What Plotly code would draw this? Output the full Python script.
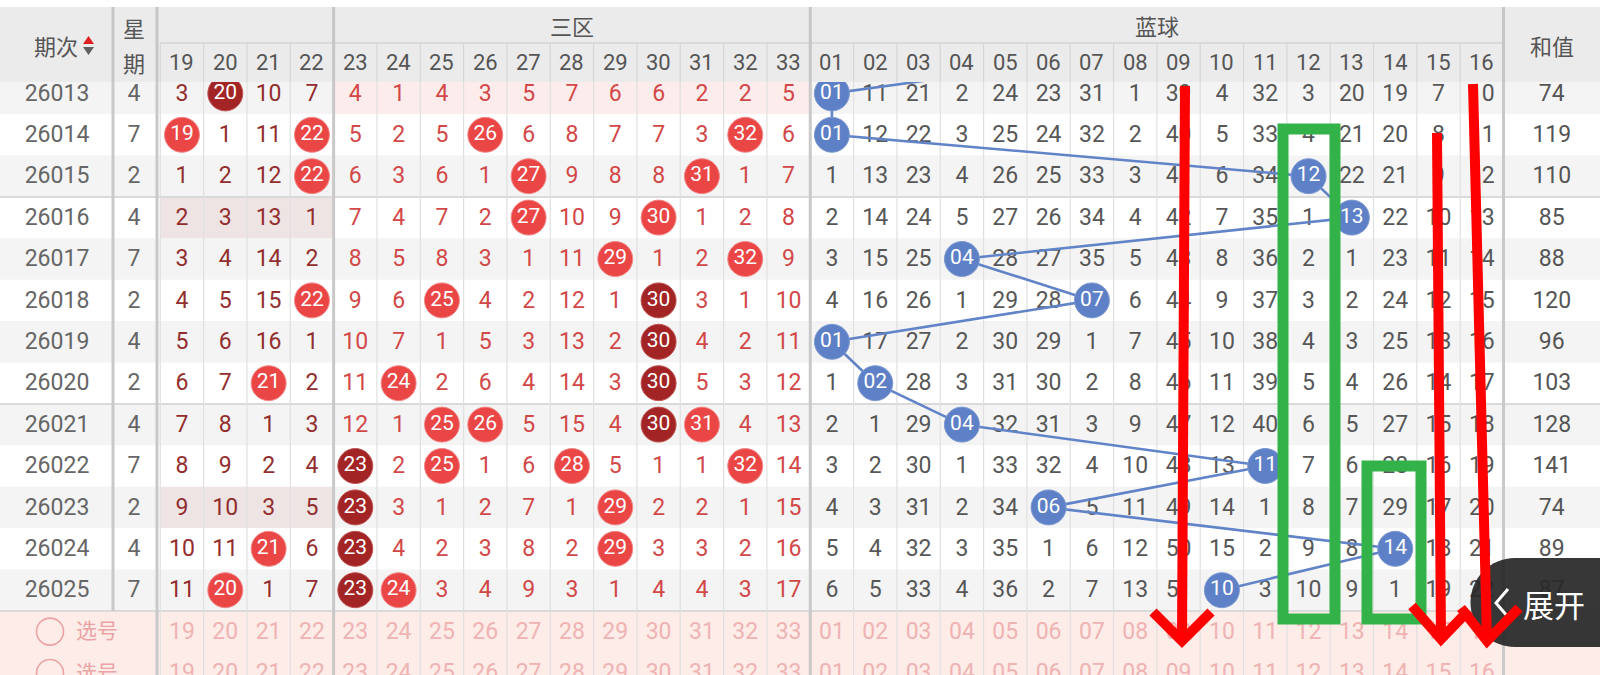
import plotly.graph_objects as go

# ---------------- data ----------------
periods = [26013, 26014, 26015, 26016, 26017, 26018, 26019, 26020, 26021, 26022, 26023, 26024, 26025]
weekdays = [4, 7, 2, 4, 7, 2, 4, 2, 4, 7, 2, 4, 7]
sum_values = [74, 119, 110, 85, 88, 120, 96, 103, 128, 141, 74, 89, 87]

red_numbers = [19, 20, 21, 22, 23, 24, 25, 26, 27, 28, 29, 30, 31, 32, 33]
blue_numbers = ["01", "02", "03", "04", "05", "06", "07", "08", "09", "10", "11", "12", "13", "14", "15", "16"]

# omission counts; 0 = number drawn in that period
red_miss = [
    [3, 0, 10, 7, 4, 1, 4, 3, 5, 7, 6, 6, 2, 2, 5],
    [0, 1, 11, 0, 5, 2, 5, 0, 6, 8, 7, 7, 3, 0, 6],
    [1, 2, 12, 0, 6, 3, 6, 1, 0, 9, 8, 8, 0, 1, 7],
    [2, 3, 13, 1, 7, 4, 7, 2, 0, 10, 9, 0, 1, 2, 8],
    [3, 4, 14, 2, 8, 5, 8, 3, 1, 11, 0, 1, 2, 0, 9],
    [4, 5, 15, 0, 9, 6, 0, 4, 2, 12, 1, 0, 3, 1, 10],
    [5, 6, 16, 1, 10, 7, 1, 5, 3, 13, 2, 0, 4, 2, 11],
    [6, 7, 0, 2, 11, 0, 2, 6, 4, 14, 3, 0, 5, 3, 12],
    [7, 8, 1, 3, 12, 1, 0, 0, 5, 15, 4, 0, 0, 4, 13],
    [8, 9, 2, 4, 0, 2, 0, 1, 6, 0, 5, 1, 1, 0, 14],
    [9, 10, 3, 5, 0, 3, 1, 2, 7, 1, 0, 2, 2, 1, 15],
    [10, 11, 0, 6, 0, 4, 2, 3, 8, 2, 0, 3, 3, 2, 16],
    [11, 0, 1, 7, 0, 0, 3, 4, 9, 3, 1, 4, 4, 3, 17],
]
blue_miss = [
    [0, 11, 21, 2, 24, 23, 31, 1, 39, 4, 32, 3, 20, 19, 7, 10],
    [0, 12, 22, 3, 25, 24, 32, 2, 40, 5, 33, 4, 21, 20, 8, 11],
    [1, 13, 23, 4, 26, 25, 33, 3, 41, 6, 34, 0, 22, 21, 9, 12],
    [2, 14, 24, 5, 27, 26, 34, 4, 42, 7, 35, 1, 0, 22, 10, 13],
    [3, 15, 25, 0, 28, 27, 35, 5, 43, 8, 36, 2, 1, 23, 11, 14],
    [4, 16, 26, 1, 29, 28, 0, 6, 44, 9, 37, 3, 2, 24, 12, 15],
    [0, 17, 27, 2, 30, 29, 1, 7, 45, 10, 38, 4, 3, 25, 13, 16],
    [1, 0, 28, 3, 31, 30, 2, 8, 46, 11, 39, 5, 4, 26, 14, 17],
    [2, 1, 29, 0, 32, 31, 3, 9, 47, 12, 40, 6, 5, 27, 15, 18],
    [3, 2, 30, 1, 33, 32, 4, 10, 48, 13, 0, 7, 6, 28, 16, 19],
    [4, 3, 31, 2, 34, 0, 5, 11, 49, 14, 1, 8, 7, 29, 17, 20],
    [5, 4, 32, 3, 35, 1, 6, 12, 50, 15, 2, 9, 8, 0, 18, 21],
    [6, 5, 33, 4, 36, 2, 7, 13, 51, 0, 3, 10, 9, 1, 19, 22],
]
dark_red_hits = [(26013, 20), (26018, 30), (26019, 30), (26020, 30), (26021, 30),
                 (26022, 23), (26023, 23), (26024, 23), (26025, 23)]
prev_blue_ball = 8          # blue ball of period 26012 (row hidden under header)
picker_label = "选号"

# ---------------- layout constants ----------------
W, H = 1600, 675
HDR_TOP, HDR_MID, HDR_BOT = 7, 43, 82
ROW_H = 41.4
ROW_TOP0 = 72.7
COL_W = 43.33
COL_LEFT0 = 160.3
X_PERIOD, X_WEEK = 57, 134
SUM_LEFT = COL_LEFT0 + 31 * COL_W
X_SUM = (SUM_LEFT + W) / 2
TEXT_DY = 1.5
NUM_FONT = "Roboto"
CJK_FONT = "Noto Sans CJK SC"
N_RED = len(red_numbers)


def cx(c):
    return COL_LEFT0 + (c + 0.5) * COL_W


def cy(i):
    return ROW_TOP0 + (i + 0.5) * ROW_H


def col_edge(c):
    return COL_LEFT0 + c * COL_W


nrows = len(periods)
shapes = []

# ---- body backgrounds ----
for i in range(nrows):
    top = ROW_TOP0 + i * ROW_H
    if i % 2 == 0:
        shapes.append(dict(type="rect", layer="below", x0=0, x1=W, y0=top, y1=top + ROW_H,
                           fillcolor="#f4f4f4", line=dict(width=0)))
top = ROW_TOP0
shapes.append(dict(type="rect", layer="below", x0=col_edge(4), x1=col_edge(15), y0=top, y1=top + ROW_H,
                   fillcolor="#fcecec", line=dict(width=0)))
for i in (3, 10):
    top = ROW_TOP0 + i * ROW_H
    shapes.append(dict(type="rect", layer="below", x0=col_edge(0), x1=col_edge(4), y0=top, y1=top + ROW_H,
                       fillcolor="#efe4e4", line=dict(width=0)))
pick_top = ROW_TOP0 + nrows * ROW_H
shapes.append(dict(type="rect", layer="below", x0=0, x1=W, y0=pick_top, y1=H,
                   fillcolor="#fdece8", line=dict(width=0)))
for i in (3, 8, 13):
    yy = ROW_TOP0 + i * ROW_H
    shapes.append(dict(type="line", layer="below", x0=0, x1=W, y0=yy, y1=yy,
                       line=dict(color="#dadada", width=2)))
for c in range(32):
    xx = col_edge(c)
    shapes.append(dict(type="line", layer="below", x0=xx, x1=xx, y0=HDR_BOT, y1=H,
                       line=dict(color="#e0e0e0", width=1.2)))
for xx in (col_edge(4), col_edge(15), SUM_LEFT, 157):
    shapes.append(dict(type="line", layer="below", x0=xx, x1=xx, y0=HDR_BOT, y1=H,
                       line=dict(color="#c9c9c9", width=3)))
shapes.append(dict(type="line", layer="below", x0=113, x1=113, y0=HDR_BOT, y1=pick_top,
                   line=dict(color="#c9c9c9", width=3)))

# ---- header (above traces) ----
shapes.append(dict(type="rect", layer="above", x0=0, x1=W, y0=0, y1=HDR_TOP,
                   fillcolor="white", line=dict(width=0)))
shapes.append(dict(type="rect", layer="above", x0=0, x1=W, y0=HDR_TOP, y1=HDR_BOT,
                   fillcolor="#ebebeb", line=dict(width=0)))
shapes.append(dict(type="line", layer="above", x0=col_edge(0), x1=SUM_LEFT, y0=HDR_MID, y1=HDR_MID,
                   line=dict(color="#d4d4d4", width=1.5)))
for c in range(32):
    xx = col_edge(c)
    shapes.append(dict(type="line", layer="above", x0=xx, x1=xx, y0=HDR_MID, y1=HDR_BOT,
                       line=dict(color="#d6d6d6", width=1.2)))
for xx in (113, 157, col_edge(4), col_edge(15), SUM_LEFT):
    shapes.append(dict(type="line", layer="above", x0=xx, x1=xx, y0=HDR_TOP, y1=HDR_BOT,
                       line=dict(color="#c6c6c6", width=3)))
shapes.append(dict(type="path", layer="above", path="M 83 44 L 94 44 L 88.5 36 Z",
                   fillcolor="#e02020", line=dict(width=0)))
shapes.append(dict(type="path", layer="above", path="M 83 47 L 94 47 L 88.5 55 Z",
                   fillcolor="#606060", line=dict(width=0)))

# ---- overlay markup ----
r = 44.5
bx, by = 1515, 602.5
k = 0.5523 * r
btn_path = (f"M {bx} {by - r} L {W} {by - r} L {W} {by + r} L {bx} {by + r} "
            f"C {bx - k} {by + r} {bx - r} {by + k} {bx - r} {by} "
            f"C {bx - r} {by - k} {bx - k} {by - r} {bx} {by - r} Z")
shapes.append(dict(type="path", layer="above", path=btn_path,
                   fillcolor="rgba(40,40,40,0.93)", line=dict(width=0)))
shapes.append(dict(type="path", layer="above", path="M 1508 589 L 1496 603 L 1508 617",
                   line=dict(color="white", width=3)))
GREEN = "#33b249"
shapes.append(dict(type="rect", layer="above", x0=1283, x1=1335, y0=129, y1=619,
                   line=dict(color=GREEN, width=11), fillcolor="rgba(0,0,0,0)"))
shapes.append(dict(type="rect", layer="above", x0=1367, x1=1421, y0=466, y1=619,
                   line=dict(color=GREEN, width=11), fillcolor="rgba(0,0,0,0)"))
RED = "#ff0000"
arrow_paths = [
    "M 1185 86 L 1182 640",
    "M 1153 612 L 1182 641 L 1211 612",
    "M 1437 133 L 1441 638",
    "M 1412 606 L 1441 639 L 1469 610",
    "M 1473 84 L 1487 640",
    "M 1461 608 L 1487 641 L 1519 608",
]
for p in arrow_paths:
    shapes.append(dict(type="path", layer="above", path=p, line=dict(color=RED, width=10)))

# ---------------- traces ----------------
fig = go.Figure()


def text_trace(xs, ys, texts, color, size=23, family=NUM_FONT):
    return go.Scatter(x=xs, y=[v + TEXT_DY for v in ys], text=texts, mode="text",
                      textposition="middle center",
                      textfont=dict(color=color, size=size, family=family),
                      hoverinfo="skip", showlegend=False)


ys = [cy(i) for i in range(nrows)]
fig.add_trace(text_trace([X_PERIOD] * nrows, ys, [str(p) for p in periods], "#666666"))
fig.add_trace(text_trace([X_WEEK] * nrows, ys, [str(w) for w in weekdays], "#666666"))
fig.add_trace(text_trace([X_SUM] * nrows, ys, [str(s) for s in sum_values], "#555555"))

z2x, z2y, z2t = [], [], []
z3x, z3y, z3t = [], [], []
bx_, by_, bt_ = [], [], []
hit_bright = ([], [], [])
hit_dark = ([], [], [])
hit_blue = ([], [], [])
blue_path_x, blue_path_y = [cx(N_RED + prev_blue_ball - 1)], [cy(-1)]
for i, p in enumerate(periods):
    for j, n in enumerate(red_numbers):
        v = red_miss[i][j]
        if v == 0:
            tgt = hit_dark if (p, n) in dark_red_hits else hit_bright
            tgt[0].append(cx(j)); tgt[1].append(cy(i)); tgt[2].append(str(n))
        elif j < 4:
            z2x.append(cx(j)); z2y.append(cy(i)); z2t.append(str(v))
        else:
            z3x.append(cx(j)); z3y.append(cy(i)); z3t.append(str(v))
    for j, n in enumerate(blue_numbers):
        v = blue_miss[i][j]
        c = N_RED + j
        if v == 0:
            hit_blue[0].append(cx(c)); hit_blue[1].append(cy(i)); hit_blue[2].append(n)
            blue_path_x.append(cx(c)); blue_path_y.append(cy(i))
        else:
            bx_.append(cx(c)); by_.append(cy(i)); bt_.append(str(v))

fig.add_trace(text_trace(z2x, z2y, z2t, "#922e2e"))
fig.add_trace(text_trace(z3x, z3y, z3t, "#d24848"))
fig.add_trace(text_trace(bx_, by_, bt_, "#575757"))

for k_ in range(2):
    yy = cy(nrows + k_)
    fig.add_trace(text_trace([cx(j) for j in range(N_RED)], [yy] * N_RED,
                             [str(n) for n in red_numbers], "#efb3b3"))
    fig.add_trace(text_trace([cx(N_RED + j) for j in range(len(blue_numbers))], [yy] * len(blue_numbers),
                             blue_numbers, "#efb3b3"))
    fig.add_trace(go.Scatter(x=[50], y=[yy], mode="markers",
                             marker=dict(symbol="circle-open", size=27, color="#eba3a3", line=dict(width=1.6)),
                             hoverinfo="skip", showlegend=False))
    fig.add_trace(text_trace([97], [yy], [picker_label], "#eba3a3", size=21, family=CJK_FONT))

fig.add_trace(go.Scatter(x=blue_path_x, y=blue_path_y, mode="lines",
                         line=dict(color="#6184c8", width=2.6), hoverinfo="skip", showlegend=False))


def ball_trace(data, fill, edge):
    return go.Scatter(x=data[0], y=data[1], text=data[2], mode="markers+text",
                      textposition="middle center",
                      marker=dict(size=35, color=fill, line=dict(color=edge, width=1)),
                      textfont=dict(color="white", size=21, family=NUM_FONT),
                      hoverinfo="skip", showlegend=False)


fig.add_trace(ball_trace(hit_bright, "#ea4646", "#f28a8a"))
fig.add_trace(ball_trace(hit_dark, "#a22424", "#c05555"))
fig.add_trace(ball_trace(hit_blue, "#5e80c6", "#7e9ad2"))

# ---------------- header text ----------------
ann = []
HDR_C = "#555555"
ann.append(dict(x=X_PERIOD - 1, y=45, text="期次", font=dict(size=22, color=HDR_C, family=CJK_FONT)))
ann.append(dict(x=X_WEEK, y=27, text="星", font=dict(size=22, color=HDR_C, family=CJK_FONT)))
ann.append(dict(x=X_WEEK, y=62, text="期", font=dict(size=22, color=HDR_C, family=CJK_FONT)))
ann.append(dict(x=(col_edge(4) + col_edge(15)) / 2, y=25, text="三区",
                font=dict(size=22, color=HDR_C, family=CJK_FONT)))
ann.append(dict(x=(col_edge(15) + SUM_LEFT) / 2, y=25, text="蓝球",
                font=dict(size=22, color=HDR_C, family=CJK_FONT)))
ann.append(dict(x=X_SUM, y=45, text="和值", font=dict(size=22, color=HDR_C, family=CJK_FONT)))
for j, n in enumerate(red_numbers):
    ann.append(dict(x=cx(j), y=62, text=str(n), font=dict(size=22, color=HDR_C, family=NUM_FONT)))
for j, n in enumerate(blue_numbers):
    ann.append(dict(x=cx(N_RED + j), y=62, text=n, font=dict(size=22, color=HDR_C, family=NUM_FONT)))
ann.append(dict(x=1554, y=603, text="展开", font=dict(size=31, color="white", family=CJK_FONT)))
for a in ann:
    a.update(xref="x", yref="y", showarrow=False, xanchor="center", yanchor="middle")

fig.update_layout(
    width=W, height=H, margin=dict(l=0, r=0, t=0, b=0),
    paper_bgcolor="white", plot_bgcolor="white",
    xaxis=dict(range=[0, W], visible=False, fixedrange=True),
    yaxis=dict(range=[H, 0], visible=False, fixedrange=True),
    shapes=shapes, annotations=ann, showlegend=False,
)

fig.write_html("out.html", config={"displayModeBar": False},
               post_script="document.body.style.margin='0px';document.body.style.overflow='hidden';")
